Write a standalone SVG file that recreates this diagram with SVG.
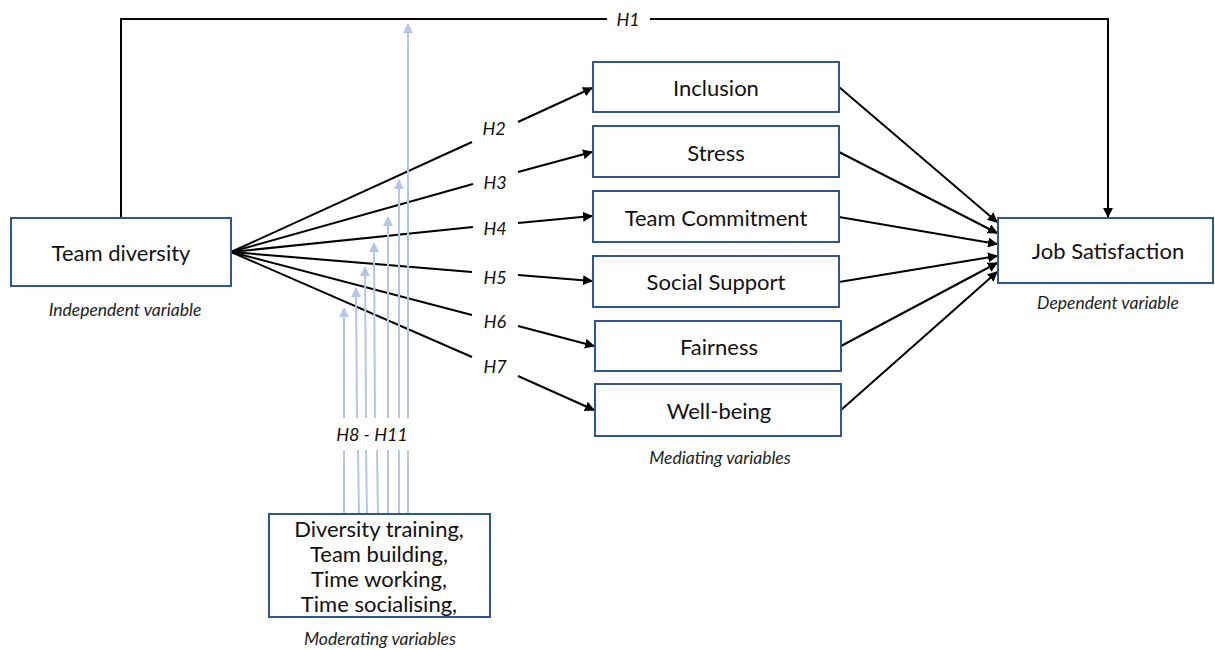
<svg xmlns="http://www.w3.org/2000/svg" width="1215" height="650" viewBox="0 0 1215 650">
  <style>
    .box { fill: #ffffff; stroke: #2f5597; stroke-width: 2; }
    .lbl { font-family: Lato, "Open Sans", "Liberation Sans", sans-serif; font-size: 22px; fill: #111; text-anchor: middle; dominant-baseline: central; }
    .cap { font-family: Lato, "Open Sans", "Liberation Sans", sans-serif; font-size: 17.5px; font-style: italic; fill: #222; text-anchor: middle; dominant-baseline: central; }
    .hyp { font-family: Lato, "Open Sans", "Liberation Sans", sans-serif; font-size: 18px; font-style: italic; fill: #111; text-anchor: middle; dominant-baseline: central; }
    .link { fill: none; stroke: #000; stroke-width: 2; }
    .arr { marker-end: url(#head); }
    .mod { fill: none; stroke: #b4c7e7; stroke-width: 2; }
    .modarr { marker-end: url(#headBlue); }
  </style>
  <defs>
    <marker id="head" viewBox="0 0 10 10" refX="9" refY="5" markerWidth="5" markerHeight="5" orient="auto" markerUnits="strokeWidth">
      <path d="M0,0 L10,5 L0,10 z" fill="#000"/>
    </marker>
    <marker id="headBlue" viewBox="0 0 10 10" refX="9" refY="5" markerWidth="5" markerHeight="5" orient="auto" markerUnits="strokeWidth">
      <path d="M0,0 L10,5 L0,10 z" fill="#b4c7e7"/>
    </marker>
  </defs>

  <!-- connectors -->
  <g id="connectors">
    <!-- H1: direct path over the top -->
    <polyline class="link" points="121,218 121,19 607,19"/>
    <polyline class="link arr" points="650,19 1108,19 1108,217"/>

    <!-- H2 to H7: team diversity to mediators -->
    <line class="link" x1="231" y1="252" x2="472" y2="142"/>
    <line class="link arr" x1="518" y1="122" x2="592" y2="88"/>
    <line class="link" x1="231" y1="252" x2="473" y2="184"/>
    <line class="link arr" x1="518" y1="172" x2="592" y2="152"/>
    <line class="link" x1="231" y1="252" x2="473" y2="227"/>
    <line class="link arr" x1="518" y1="223" x2="592" y2="216"/>
    <line class="link" x1="231" y1="252" x2="472" y2="272"/>
    <line class="link arr" x1="518" y1="275" x2="592" y2="281"/>
    <line class="link" x1="231" y1="252" x2="472" y2="315"/>
    <line class="link arr" x1="518" y1="326" x2="594" y2="346"/>
    <line class="link" x1="231" y1="252" x2="472" y2="357"/>
    <line class="link arr" x1="518" y1="376" x2="594" y2="410"/>

    <!-- mediators to job satisfaction -->
    <line class="link arr" x1="839" y1="87" x2="997" y2="222"/>
    <line class="link arr" x1="839" y1="152" x2="997" y2="233"/>
    <line class="link arr" x1="839" y1="217" x2="997" y2="244"/>
    <line class="link arr" x1="839" y1="282" x2="997" y2="256"/>
    <line class="link arr" x1="841" y1="346" x2="997" y2="263"/>
    <line class="link arr" x1="841" y1="410" x2="997" y2="272"/>

    <!-- H8 - H11: moderators acting on the paths -->
    <line class="mod" x1="344" y1="514" x2="344" y2="450"/>
    <line class="mod modarr" x1="344" y1="418" x2="344" y2="308"/>
    <line class="mod" x1="359" y1="514" x2="358" y2="450"/>
    <line class="mod modarr" x1="357" y1="418" x2="356" y2="288"/>
    <line class="mod" x1="367" y1="514" x2="366" y2="450"/>
    <line class="mod modarr" x1="366" y1="418" x2="365" y2="267"/>
    <line class="mod" x1="378" y1="514" x2="377" y2="450"/>
    <line class="mod modarr" x1="375" y1="418" x2="374" y2="243"/>
    <line class="mod" x1="388" y1="514" x2="388" y2="450"/>
    <line class="mod modarr" x1="388" y1="418" x2="388" y2="217"/>
    <line class="mod" x1="399" y1="514" x2="399" y2="450"/>
    <line class="mod modarr" x1="399" y1="418" x2="399" y2="180"/>
    <line class="mod" x1="408" y1="514" x2="408" y2="450"/>
    <line class="mod modarr" x1="408" y1="418" x2="408" y2="24"/>

    <text class="hyp" x="628" y="19">H1</text>
    <text class="hyp" x="494" y="128">H2</text>
    <text class="hyp" x="495" y="182">H3</text>
    <text class="hyp" x="495" y="228">H4</text>
    <text class="hyp" x="495" y="277">H5</text>
    <text class="hyp" x="495" y="321">H6</text>
    <text class="hyp" x="495" y="366">H7</text>
    <text class="hyp" x="372" y="434">H8 - H11</text>
  </g>

  <!-- independent variable -->
  <g id="team-diversity">
    <rect class="box" x="11" y="218" width="220" height="68"/>
    <text class="lbl" x="121" y="252">Team diversity</text>
    <text class="cap" x="125" y="309">Independent variable</text>
  </g>

  <!-- mediating variables -->
  <g id="inclusion">
    <rect class="box" x="593" y="62" width="246" height="50"/>
    <text class="lbl" x="716" y="87">Inclusion</text>
  </g>
  <g id="stress">
    <rect class="box" x="593" y="126" width="246" height="51"/>
    <text class="lbl" x="716" y="152">Stress</text>
  </g>
  <g id="team-commitment">
    <rect class="box" x="593" y="191" width="246" height="51"/>
    <text class="lbl" x="716" y="217">Team Commitment</text>
  </g>
  <g id="social-support">
    <rect class="box" x="593" y="256" width="246" height="51"/>
    <text class="lbl" x="716" y="281">Social Support</text>
  </g>
  <g id="fairness">
    <rect class="box" x="595" y="321" width="246" height="50"/>
    <text class="lbl" x="719" y="346">Fairness</text>
  </g>
  <g id="well-being">
    <rect class="box" x="595" y="384" width="246" height="52"/>
    <text class="lbl" x="719" y="410">Well-being</text>
    <text class="cap" x="720" y="457">Mediating variables</text>
  </g>

  <!-- dependent variable -->
  <g id="job-satisfaction">
    <rect class="box" x="998" y="218" width="215" height="65"/>
    <text class="lbl" x="1108" y="250">Job Satisfaction</text>
    <text class="cap" x="1108" y="302">Dependent variable</text>
  </g>

  <!-- moderating variables -->
  <g id="moderators">
    <rect class="box" x="269" y="514" width="221" height="103"/>
    <text class="lbl" x="379" y="528">Diversity training,</text>
    <text class="lbl" x="379" y="553">Team building,</text>
    <text class="lbl" x="379" y="578">Time working,</text>
    <text class="lbl" x="379" y="603">Time socialising,</text>
    <text class="cap" x="380" y="638">Moderating variables</text>
  </g>
</svg>
